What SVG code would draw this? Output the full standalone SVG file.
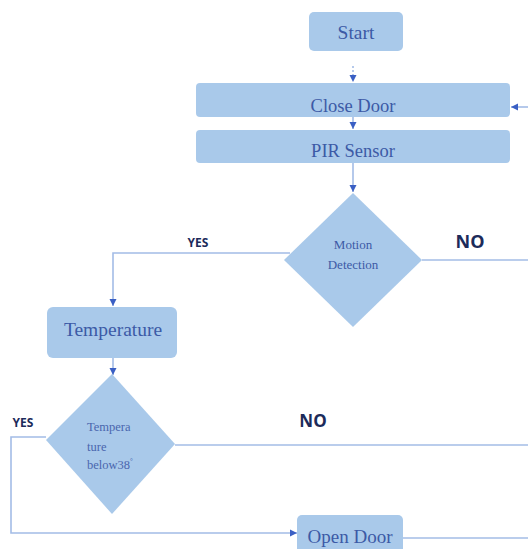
<svg xmlns="http://www.w3.org/2000/svg" width="528" height="549" viewBox="0 0 528 549">
<defs>
<style>
.box{fill:#a9c9ea;}
.t{font-family:"Liberation Serif","DejaVu Serif",serif;fill:#3c5aa6;text-anchor:middle;}
.d{font-family:"Liberation Serif","DejaVu Serif",serif;fill:#4a66ae;font-size:12.5px;}
.lbl{font-family:"Open Sans","Liberation Sans",sans-serif;font-weight:bold;fill:#1c2b5a;}
.ln{fill:none;stroke:#a3bce6;stroke-width:1.6;}
</style>
<marker id="ah" markerWidth="8" markerHeight="8" refX="7" refY="4" orient="auto" markerUnits="userSpaceOnUse">
<path d="M0,0.5 L7,4 L0,7.5 z" fill="#3a5fc4"/>
</marker>
</defs>
<rect width="528" height="549" fill="#ffffff"/>
<g id="connectors">
<line class="ln" x1="353" y1="66" x2="353" y2="82" stroke-dasharray="2,2" marker-end="url(#ah)"/>
<line class="ln" x1="353" y1="117" x2="353" y2="129" marker-end="url(#ah)"/>
<line class="ln" x1="353" y1="163" x2="353" y2="192" marker-end="url(#ah)"/>
<line class="ln" x1="528" y1="107" x2="511" y2="107" marker-end="url(#ah)"/>
<polyline class="ln" points="290,253 113,253 113,306" marker-end="url(#ah)"/>
<line class="ln" x1="422" y1="260" x2="528" y2="260"/>
<line class="ln" x1="113" y1="358" x2="113" y2="375" marker-end="url(#ah)"/>
<polyline class="ln" points="46,437 11,437 11,533 297,533" marker-end="url(#ah)"/>
<line class="ln" x1="175" y1="445" x2="528" y2="445"/>
<line class="ln" x1="403" y1="538" x2="528" y2="538"/>
<text class="lbl" x="198" y="247" font-size="12" text-anchor="middle">YES</text>
<text class="lbl" x="470" y="248" font-size="18" text-anchor="middle">NO</text>
<text class="lbl" x="23" y="427" font-size="12" text-anchor="middle">YES</text>
<text class="lbl" x="313" y="427" font-size="17" text-anchor="middle">NO</text>
</g>
<g id="start">
<rect class="box" x="309" y="12" width="94" height="39" rx="5"/>
<text class="t" x="356" y="39" font-size="19.5">Start</text>
</g>
<g id="close-door">
<rect class="box" x="196" y="83" width="314" height="34" rx="4"/>
<text class="t" x="353" y="112" font-size="18.5">Close Door</text>
</g>
<g id="pir-sensor">
<rect class="box" x="196" y="130" width="314" height="33" rx="4"/>
<text class="t" x="353" y="157" font-size="18.5">PIR Sensor</text>
</g>
<g id="motion-detection">
<polygon class="box" points="353,193 422,260 353,327 284,260"/>
<text class="t" x="353" y="249" font-size="13">Motion</text>
<text class="t" x="353" y="269" font-size="13">Detection</text>
</g>
<g id="temperature">
<rect class="box" x="47" y="307" width="130" height="51" rx="6"/>
<text class="t" x="113" y="336" font-size="19.5">Temperature</text>
</g>
<g id="temp-decision">
<polygon class="box" points="112,374 175,444 112,514 46,440"/>
<text class="d" x="87" y="431">Tempera</text>
<text class="d" x="87" y="451">ture</text>
<text class="d" x="87" y="469">below38<tspan font-size="7" dy="-6">°</tspan></text>
</g>
<g id="open-door">
<rect class="box" x="297" y="515" width="106" height="40" rx="5"/>
<text class="t" x="350" y="543" font-size="19">Open Door</text>
</g>
</svg>
